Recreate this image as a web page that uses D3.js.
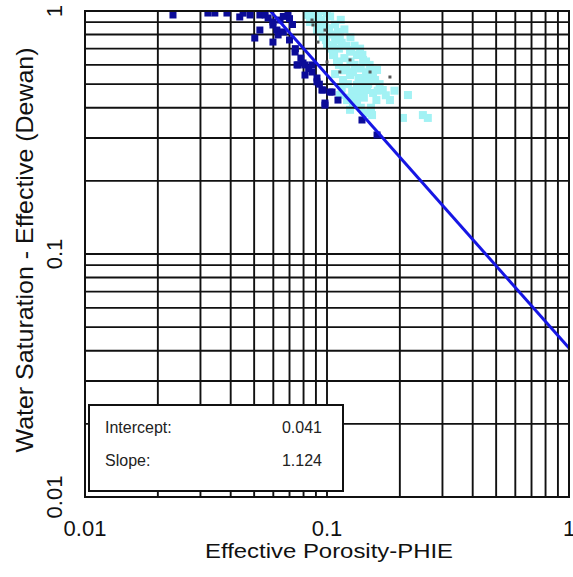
<!DOCTYPE html>
<html>
<head>
<meta charset="utf-8">
<script src="https://cdn.jsdelivr.net/npm/d3@7"></script>
<style>
  html, body { margin: 0; padding: 0; background: #fff; }
  svg { display: block; font-family: "Liberation Sans", Arial, sans-serif; }
</style>
</head>
<body>
<svg id="chart" width="573" height="577"></svg>
<script>
// Effective porosity (PHIE) vs. effective water saturation (Dewan), log-log
const xTickLabels = ["0.01", "0.1", "1"];
const yTickLabels = ["0.01", "0.1", "1"];

// Regression parameters: Sw = intercept * PHIE^(-slope)
const fitIntercept = 0.041;
const fitSlope = 1.124;

// Interval A (dark) samples: [PHIE, Sw]
const darkPoints = [
  [0.0231, 0.963], [0.0322, 0.981], [0.0344, 0.981], [0.0386, 0.981], [0.0436, 0.945],
  [0.0450, 0.980], [0.0481, 0.963], [0.0528, 0.963], [0.0550, 0.980], [0.0555, 0.963],
  [0.0571, 0.936], [0.0528, 0.835], [0.0503, 0.774], [0.0598, 0.876], [0.0598, 0.745],
  [0.0621, 0.835], [0.0628, 0.797], [0.0598, 0.901], [0.0640, 0.918], [0.0660, 0.950],
  [0.0690, 0.981], [0.0700, 0.930], [0.0738, 0.678], [0.0752, 0.600], [0.0759, 0.600],
  [0.0796, 0.611], [0.0811, 0.600], [0.0867, 0.600], [0.0811, 0.545], [0.0867, 0.561],
  [0.0909, 0.530], [0.0909, 0.511], [0.0953, 0.473], [0.0962, 0.473], [0.0981, 0.418],
  [0.0981, 0.410], [0.1029, 0.464], [0.1049, 0.464], [0.1110, 0.430], [0.1395, 0.356],
  [0.1610, 0.309], [0.0740, 0.700], [0.0780, 0.640], [0.0840, 0.580], [0.0930, 0.500],
  [0.0700, 0.760], [0.0660, 0.820], [0.0720, 0.880]
];

// Interval B (light) samples: [PHIE, Sw]
const lightPoints = [
  [0.0827, 0.963], [0.0851, 0.901], [0.0909, 0.835], [0.1110, 0.820], [0.1000, 0.725],
  [0.1059, 0.659], [0.1245, 0.691], [0.1330, 0.659], [0.1410, 0.629], [0.1550, 0.545],
  [0.1610, 0.572], [0.1410, 0.520], [0.1330, 0.496], [0.1245, 0.545], [0.1165, 0.520],
  [0.1130, 0.451], [0.1210, 0.430], [0.1330, 0.410], [0.1463, 0.473], [0.1700, 0.473],
  [0.1820, 0.430], [0.2160, 0.451], [0.2060, 0.363], [0.2490, 0.373], [0.2610, 0.363],
  [0.1535, 0.373], [0.1245, 0.392], [0.0880, 0.940], [0.0920, 0.960], [0.0950, 0.920],
  [0.0980, 0.880], [0.0930, 0.860], [0.1020, 0.850], [0.1050, 0.800], [0.1080, 0.760],
  [0.0960, 0.780], [0.1150, 0.740], [0.1120, 0.700], [0.1200, 0.720], [0.1180, 0.640],
  [0.1250, 0.620], [0.1300, 0.600], [0.1380, 0.580], [0.1450, 0.560], [0.1280, 0.560],
  [0.1350, 0.530], [0.1200, 0.580], [0.1100, 0.620], [0.1080, 0.550], [0.1480, 0.500],
  [0.1550, 0.460], [0.1420, 0.440], [0.1300, 0.450], [0.1150, 0.480], [0.1380, 0.400],
  [0.1600, 0.430], [0.1650, 0.500], [0.1500, 0.600], [0.1400, 0.660], [0.1250, 0.780],
  [0.1180, 0.840], [0.1030, 0.950], [0.0850, 0.980], [0.1000, 0.980], [0.0900, 0.900],
  [0.0940, 0.820], [0.0990, 0.760], [0.1040, 0.700], [0.1070, 0.660], [0.1120, 0.600],
  [0.1170, 0.570], [0.1220, 0.500], [0.1270, 0.470], [0.1330, 0.440], [0.1280, 0.420],
  [0.1240, 0.440], [0.1360, 0.470], [0.1430, 0.490], [0.1470, 0.530], [0.1520, 0.570],
  [0.1580, 0.520], [0.1620, 0.470], [0.1450, 0.620], [0.1370, 0.700], [0.1300, 0.720],
  [0.1260, 0.680], [0.1130, 0.780], [0.1080, 0.880], [0.1140, 0.920], [0.0970, 1.000],
  [0.1060, 0.720], [0.1520, 0.400], [0.1450, 0.380], [0.1750, 0.450], [0.1900, 0.470]
];

// Small dark markers inside the light cloud: [PHIE, Sw]
const grayPoints = [
  [0.0867, 0.918], [0.0875, 0.876], [0.0981, 0.835], [0.1245, 0.629], [0.1130, 0.561],
  [0.1506, 0.561], [0.1820, 0.535], [0.1000, 0.617], [0.0917, 0.745]
];

const svg = d3.select("#chart");
const plotLeft = 85, plotRight = 569, plotTop = 11, plotBottom = 497;

const x = d3.scaleLog().domain([0.01, 1]).range([plotLeft, plotRight]);
const y = d3.scaleLog().domain([0.01, 1]).range([plotBottom, plotTop]);

const gridX = x.ticks();
const gridY = y.ticks();

svg.append("clipPath").attr("id", "frame").append("rect")
  .attr("x", plotLeft).attr("y", plotTop)
  .attr("width", plotRight - plotLeft).attr("height", plotBottom - plotTop);

const plot = svg.append("g");
const marks = plot.append("g").attr("clip-path", "url(#frame)");

// light cloud beneath the grid
marks.append("g").selectAll("rect").data(lightPoints).join("rect")
  .attr("x", d => x(d[0]) - 4).attr("y", d => y(d[1]) - 4)
  .attr("width", 8).attr("height", 8)
  .attr("fill", "#a2f2f4");

// grid
const grid = plot.append("g").attr("stroke", "#111").attr("stroke-width", 1.9);
grid.selectAll("line.v").data(gridX).join("line").attr("class", "v")
  .attr("x1", d => x(d)).attr("x2", d => x(d)).attr("y1", plotTop).attr("y2", plotBottom);
grid.selectAll("line.h").data(gridY).join("line").attr("class", "h")
  .attr("x1", plotLeft).attr("x2", plotRight).attr("y1", d => y(d)).attr("y2", d => y(d));

const marksTop = plot.append("g").attr("clip-path", "url(#frame)");

// dark cloud
marksTop.append("g").selectAll("rect").data(darkPoints).join("rect")
  .attr("x", d => x(d[0]) - 3.5).attr("y", d => y(d[1]) - 3.5)
  .attr("width", 7).attr("height", 7)
  .attr("fill", "#0b0b98");

marksTop.append("g").selectAll("rect").data(grayPoints).join("rect")
  .attr("x", d => x(d[0]) - 1.5).attr("y", d => y(d[1]) - 1.5)
  .attr("width", 3).attr("height", 3)
  .attr("fill", "#555");

// fitted line
const xStart = Math.pow(fitIntercept, 1 / fitSlope);
const fitData = [xStart, 1].map(p => [p, fitIntercept * Math.pow(p, -fitSlope)]);
marksTop.append("path")
  .datum(fitData)
  .attr("fill", "none").attr("stroke", "#1616e4").attr("stroke-width", 3)
  .attr("d", d3.line().x(d => x(d[0])).y(d => y(d[1])));

// frame
plot.append("rect").attr("x", plotLeft).attr("y", plotTop)
  .attr("width", plotRight - plotLeft).attr("height", plotBottom - plotTop)
  .attr("fill", "none").attr("stroke", "#111").attr("stroke-width", 2);

// regression box
const box = svg.append("g");
box.append("rect").attr("x", 89).attr("y", 405).attr("width", 254).attr("height", 86)
  .attr("fill", "#fff").attr("stroke", "#111").attr("stroke-width", 2);
box.append("text").attr("x", 105).attr("y", 433).attr("font-size", 16).attr("fill", "#222")
  .text("Intercept:");
box.append("text").attr("x", 105).attr("y", 466).attr("font-size", 16).attr("fill", "#222")
  .text("Slope:");
box.append("text").attr("x", 322).attr("y", 433).attr("font-size", 16).attr("fill", "#222")
  .attr("text-anchor", "end").text(d3.format(".3f")(fitIntercept));
box.append("text").attr("x", 322).attr("y", 466).attr("font-size", 16).attr("fill", "#222")
  .attr("text-anchor", "end").text(d3.format(".3f")(fitSlope));

// x tick labels
const xVals = xTickLabels.map(Number);
svg.append("g").selectAll("text").data(xVals).join("text")
  .attr("x", d => x(d)).attr("y", 536)
  .attr("text-anchor", "middle").attr("font-size", 22).attr("fill", "#111")
  .text((d, i) => xTickLabels[i]);

// y tick labels (rotated)
const yVals = yTickLabels.map(Number);
svg.append("g").selectAll("text").data(yVals).join("text")
  .attr("transform", d => `translate(62,${y(d)}) rotate(-90)`)
  .attr("text-anchor", "middle").attr("font-size", 22).attr("fill", "#111")
  .text((d, i) => yTickLabels[i]);

// axis titles
svg.append("text").attr("x", 329).attr("y", 558)
  .attr("text-anchor", "middle").attr("font-size", 21).attr("fill", "#111")
  .attr("textLength", 248).attr("lengthAdjust", "spacingAndGlyphs")
  .text("Effective Porosity-PHIE");
svg.append("text").attr("transform", "translate(33,250) rotate(-90)")
  .attr("text-anchor", "middle").attr("font-size", 24).attr("fill", "#111")
  .attr("textLength", 405).attr("lengthAdjust", "spacingAndGlyphs")
  .text("Water Saturation - Effective (Dewan)");
</script>
</body>
</html>
